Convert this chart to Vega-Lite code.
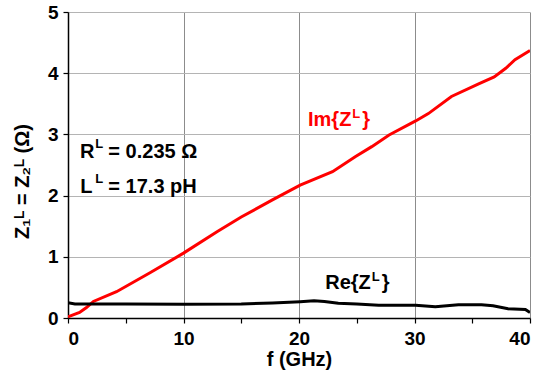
{
  "$schema": "https://vega.github.io/schema/vega-lite/v6.json",
  "width": 462,
  "height": 306,
  "autosize": "none",
  "padding": {"left": 68, "top": 12, "right": 14, "bottom": 60},
  "background": "white",
  "config": {
    "view": {"stroke": null},
    "font": "Liberation Sans",
    "axis": {
      "labelFont": "Liberation Sans", "labelFontSize": 19, "labelFontWeight": "bold", "labelColor": "black",
      "titleFont": "Liberation Sans", "titleFontSize": 20, "titleFontWeight": "bold", "titleColor": "black",
      "domainColor": "black", "domainWidth": 1.5, "tickColor": "black", "tickWidth": 1.2, "tickSize": 5,
      "labelOverlap": false
    }
  },
  "layer": [
    {
      "data": {"values": [
        {"f": 0, "v": 0.02, "series": "Im"},
        {"f": 1.0, "v": 0.09, "series": "Im"},
        {"f": 1.6, "v": 0.17, "series": "Im"},
        {"f": 2.2, "v": 0.27, "series": "Im"},
        {"f": 4.2, "v": 0.43, "series": "Im"},
        {"f": 7.1, "v": 0.74, "series": "Im"},
        {"f": 10.0, "v": 1.06, "series": "Im"},
        {"f": 12.9, "v": 1.41, "series": "Im"},
        {"f": 15.0, "v": 1.65, "series": "Im"},
        {"f": 17.7, "v": 1.93, "series": "Im"},
        {"f": 20.1, "v": 2.17, "series": "Im"},
        {"f": 22.9, "v": 2.39, "series": "Im"},
        {"f": 24.9, "v": 2.64, "series": "Im"},
        {"f": 26.3, "v": 2.80, "series": "Im"},
        {"f": 27.8, "v": 2.99, "series": "Im"},
        {"f": 30.1, "v": 3.22, "series": "Im"},
        {"f": 31.2, "v": 3.34, "series": "Im"},
        {"f": 33.2, "v": 3.62, "series": "Im"},
        {"f": 35.6, "v": 3.83, "series": "Im"},
        {"f": 36.9, "v": 3.94, "series": "Im"},
        {"f": 37.9, "v": 4.08, "series": "Im"},
        {"f": 38.7, "v": 4.22, "series": "Im"},
        {"f": 40.0, "v": 4.37, "series": "Im"},
        {"f": 0, "v": 0.25, "series": "Re"},
        {"f": 0.6, "v": 0.23, "series": "Re"},
        {"f": 5, "v": 0.23, "series": "Re"},
        {"f": 10, "v": 0.225, "series": "Re"},
        {"f": 15, "v": 0.23, "series": "Re"},
        {"f": 17.7, "v": 0.245, "series": "Re"},
        {"f": 20.1, "v": 0.265, "series": "Re"},
        {"f": 21.3, "v": 0.28, "series": "Re"},
        {"f": 22.2, "v": 0.27, "series": "Re"},
        {"f": 23.4, "v": 0.24, "series": "Re"},
        {"f": 25, "v": 0.23, "series": "Re"},
        {"f": 26.9, "v": 0.21, "series": "Re"},
        {"f": 30.1, "v": 0.21, "series": "Re"},
        {"f": 31.8, "v": 0.185, "series": "Re"},
        {"f": 33.8, "v": 0.215, "series": "Re"},
        {"f": 35.8, "v": 0.215, "series": "Re"},
        {"f": 36.8, "v": 0.20, "series": "Re"},
        {"f": 38.1, "v": 0.15, "series": "Re"},
        {"f": 39.6, "v": 0.14, "series": "Re"},
        {"f": 40, "v": 0.09, "series": "Re"}
      ]},
      "mark": {"type": "line", "strokeWidth": 3, "clip": true},
      "encoding": {
        "x": {
          "field": "f", "type": "quantitative",
          "scale": {"domain": [0, 40], "nice": false},
          "axis": {
            "title": "f (GHz)",
            "values": [0, 5, 10, 15, 20, 25, 30, 35, 40],
            "labelExpr": "datum.value % 10 === 0 ? format(datum.value, 'd') : ''",
            "grid": true, "gridColor": "#8c8c8c", "gridWidth": 1,
            "gridOpacity": {"condition": {"test": "datum.value % 10 !== 0", "value": 0}, "value": 1},
            "labelPadding": 6, "titlePadding": 1
          }
        },
        "y": {
          "field": "v", "type": "quantitative",
          "scale": {"domain": [0, 5], "nice": false},
          "axis": {
            "title": "Z₁ᴸ = Z₂ᴸ (Ω)",
            "values": [0, 0.5, 1, 1.5, 2, 2.5, 3, 3.5, 4, 4.5, 5],
            "labelExpr": "datum.value % 1 === 0 ? format(datum.value, 'd') : ''",
            "grid": true, "gridColor": "#b4b4b4", "gridWidth": 1,
            "gridOpacity": {"condition": {"test": "datum.value % 1 !== 0", "value": 0}, "value": 1},
            "labelPadding": 5, "titlePadding": 15, "titleY": 169
          }
        },
        "color": {
          "field": "series", "type": "nominal",
          "scale": {"domain": ["Re", "Im"], "range": ["#000000", "#ff0000"]},
          "legend": null
        }
      }
    },
    {
      "data": {"values": [{}]},
      "layer": [
        {"mark": {"type": "text", "text": "R", "align": "right", "baseline": "alphabetic", "fontSize": 20, "fontWeight": "bold", "color": "black", "dx": -1},
         "encoding": {"x": {"datum": 2.37, "type": "quantitative"}, "y": {"datum": 2.61, "type": "quantitative"}}},
        {"mark": {"type": "text", "text": "L", "align": "left", "baseline": "alphabetic", "fontSize": 13, "fontWeight": "bold", "color": "black", "dy": -10},
         "encoding": {"x": {"datum": 2.37, "type": "quantitative"}, "y": {"datum": 2.61, "type": "quantitative"}}},
        {"mark": {"type": "text", "text": "= 0.235 Ω", "align": "left", "baseline": "alphabetic", "fontSize": 20, "fontWeight": "bold", "color": "black", "dx": 13},
         "encoding": {"x": {"datum": 2.37, "type": "quantitative"}, "y": {"datum": 2.61, "type": "quantitative"}}},
        {"mark": {"type": "text", "text": "L", "align": "right", "baseline": "alphabetic", "fontSize": 20, "fontWeight": "bold", "color": "black", "dx": -3},
         "encoding": {"x": {"datum": 2.37, "type": "quantitative"}, "y": {"datum": 2.05, "type": "quantitative"}}},
        {"mark": {"type": "text", "text": "L", "align": "left", "baseline": "alphabetic", "fontSize": 13, "fontWeight": "bold", "color": "black", "dy": -10},
         "encoding": {"x": {"datum": 2.37, "type": "quantitative"}, "y": {"datum": 2.05, "type": "quantitative"}}},
        {"mark": {"type": "text", "text": "= 17.3 pH", "align": "left", "baseline": "alphabetic", "fontSize": 20, "fontWeight": "bold", "color": "black", "dx": 13},
         "encoding": {"x": {"datum": 2.37, "type": "quantitative"}, "y": {"datum": 2.05, "type": "quantitative"}}},
        {"mark": {"type": "text", "text": "Im{Z", "align": "right", "baseline": "alphabetic", "fontSize": 20, "fontWeight": "bold", "color": "#ff0000", "dx": -1},
         "encoding": {"x": {"datum": 24.62, "type": "quantitative"}, "y": {"datum": 3.14, "type": "quantitative"}}},
        {"mark": {"type": "text", "text": "L", "align": "left", "baseline": "alphabetic", "fontSize": 13, "fontWeight": "bold", "color": "#ff0000", "dy": -8},
         "encoding": {"x": {"datum": 24.62, "type": "quantitative"}, "y": {"datum": 3.14, "type": "quantitative"}}},
        {"mark": {"type": "text", "text": "}", "align": "left", "baseline": "alphabetic", "fontSize": 20, "fontWeight": "bold", "color": "#ff0000", "dx": 10},
         "encoding": {"x": {"datum": 24.62, "type": "quantitative"}, "y": {"datum": 3.14, "type": "quantitative"}}},
        {"mark": {"type": "text", "text": "Re{Z", "align": "right", "baseline": "alphabetic", "fontSize": 20, "fontWeight": "bold", "color": "black", "dx": -1},
         "encoding": {"x": {"datum": 26.3, "type": "quantitative"}, "y": {"datum": 0.48, "type": "quantitative"}}},
        {"mark": {"type": "text", "text": "L", "align": "left", "baseline": "alphabetic", "fontSize": 13, "fontWeight": "bold", "color": "black", "dy": -8},
         "encoding": {"x": {"datum": 26.3, "type": "quantitative"}, "y": {"datum": 0.48, "type": "quantitative"}}},
        {"mark": {"type": "text", "text": "}", "align": "left", "baseline": "alphabetic", "fontSize": 20, "fontWeight": "bold", "color": "black", "dx": 10},
         "encoding": {"x": {"datum": 26.3, "type": "quantitative"}, "y": {"datum": 0.48, "type": "quantitative"}}}
      ]
    }
  ]
}
